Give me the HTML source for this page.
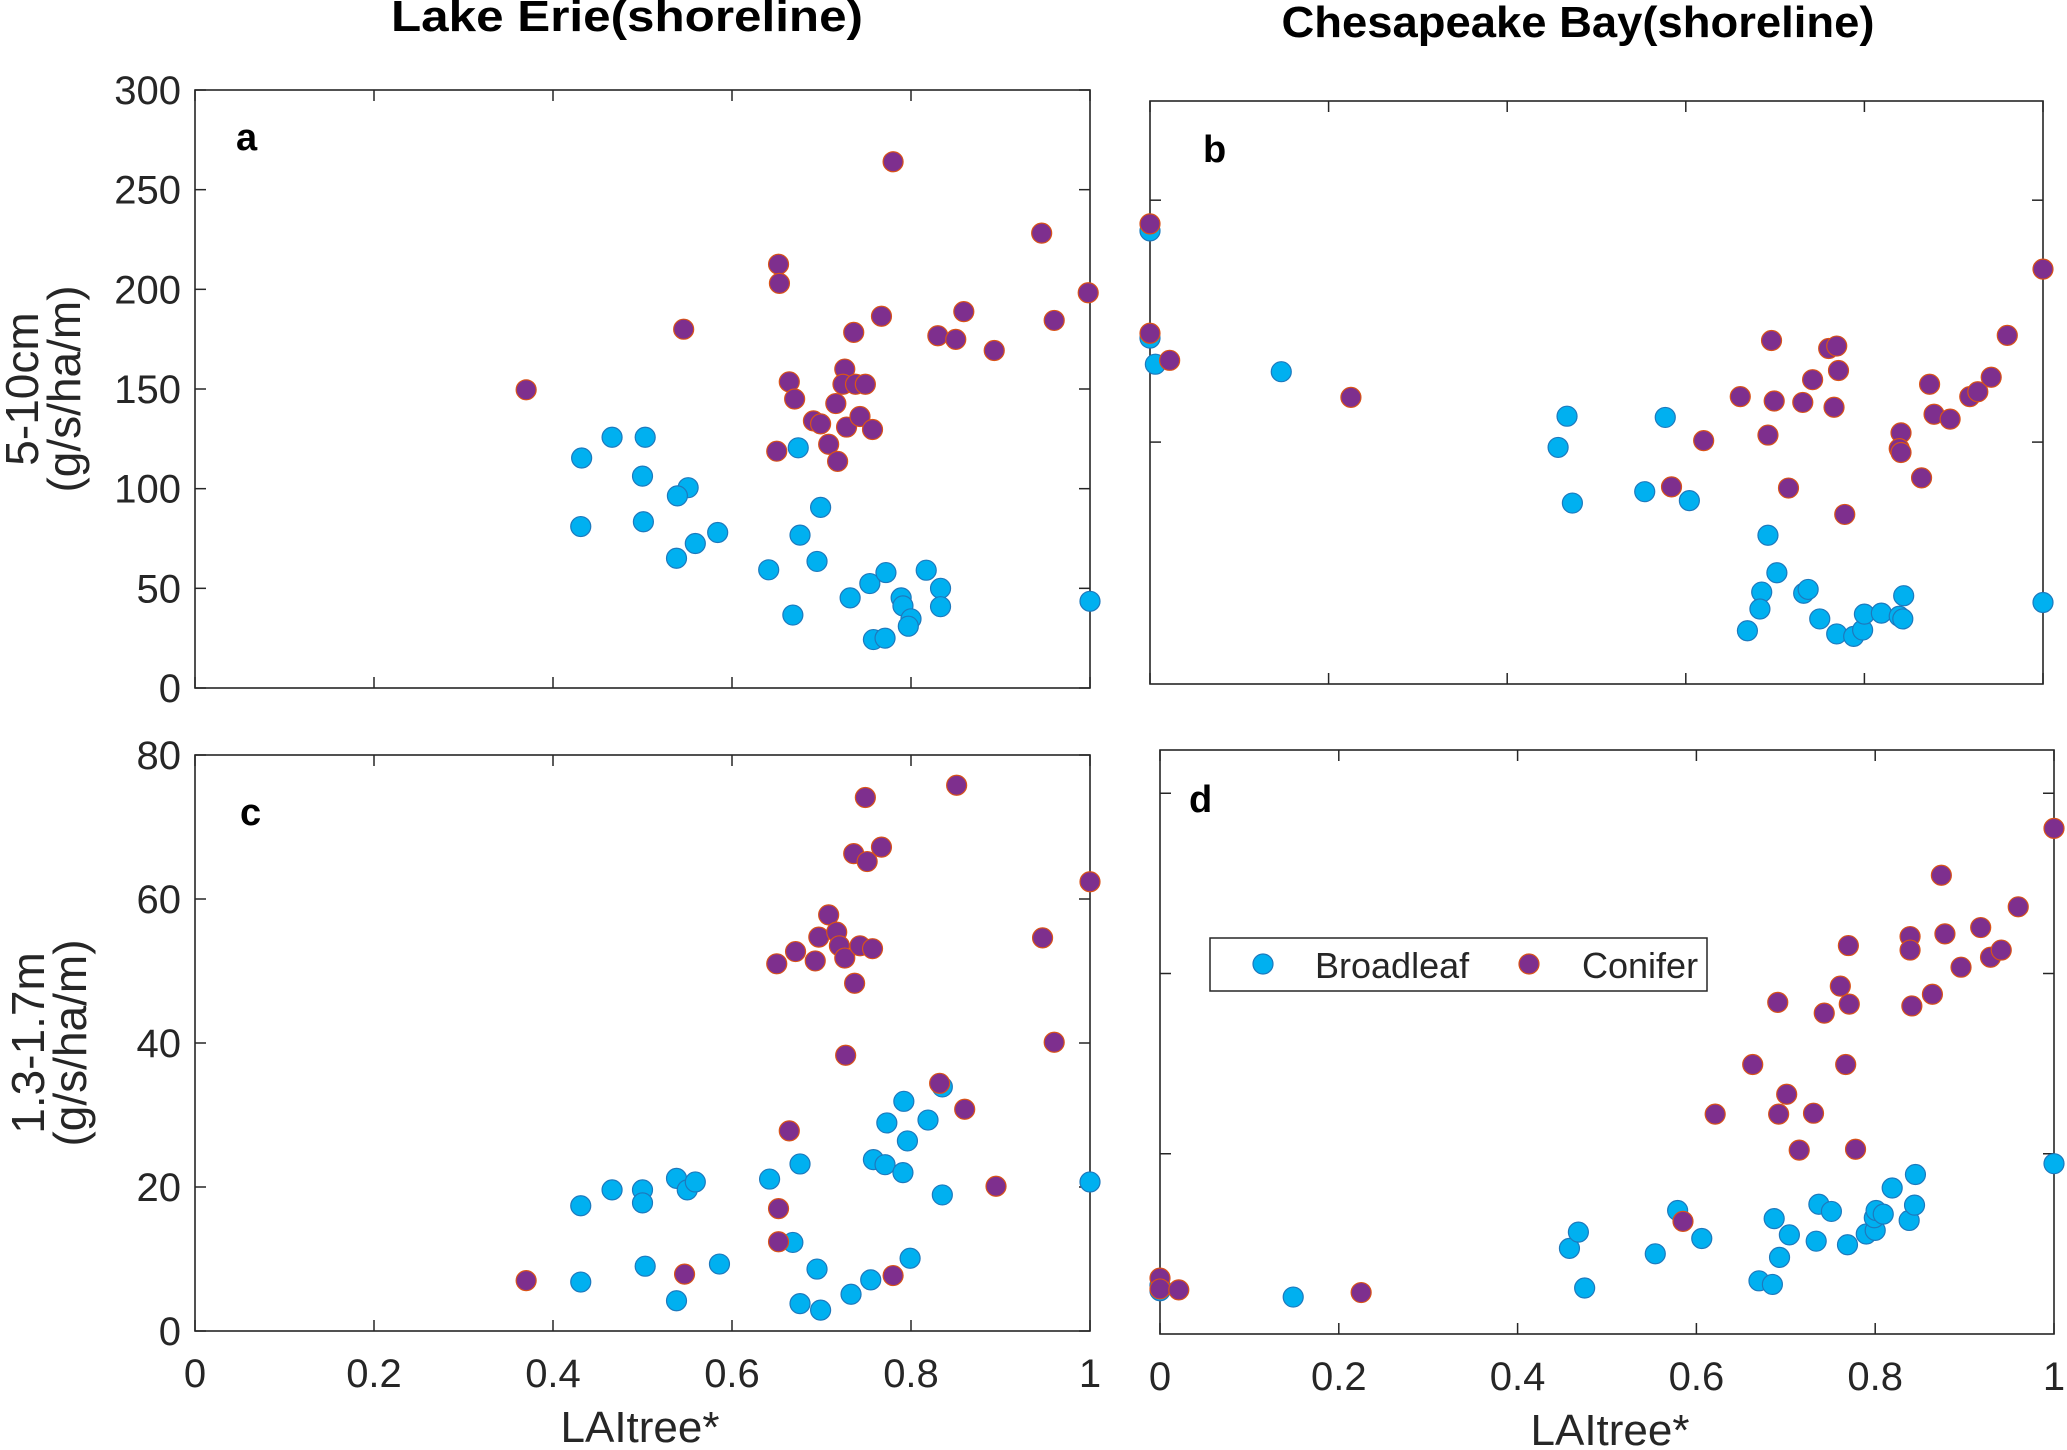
<!DOCTYPE html>
<html><head><meta charset="utf-8"><style>
html,body{margin:0;padding:0;background:#fff;}
svg{display:block;font-family:"Liberation Sans",sans-serif;}
</style></head><body>
<svg id="chart" width="2067" height="1450" viewBox="0 0 2067 1450" xmlns="http://www.w3.org/2000/svg">
<text x="627" y="31" font-size="44" font-weight="bold" text-anchor="middle" textLength="472" lengthAdjust="spacingAndGlyphs">Lake Erie(shoreline)</text>
<text x="1578" y="37" font-size="44" font-weight="bold" text-anchor="middle" textLength="593" lengthAdjust="spacingAndGlyphs">Chesapeake Bay(shoreline)</text>
<g id="root"></g>
</svg>
<script>
// Panel a: Lake Erie 5-10cm
const aConX=[.370,.546,.652,.653,.650,.664,.670,.691,.699,.708,.716,.718,.726,.724,.728,.736,.738,.749,.743,.757,.767,.780,.830,.850,.859,.893,.946,.960,.998];
const aConY=[149.6,180,212.6,203,118.8,153.6,145,134,132.5,122.3,142.7,113.7,160,152.4,130.9,178.4,152.4,152.4,136.2,129.7,186.5,264,176.7,174.9,188.8,169.3,228.2,184.4,198.3];
const aBroX=[.432,.431,.466,.503,.500,.501,.551,.539,.538,.559,.584,.641,.668,.674,.676,.699,.695,.732,.754,.772,.758,.771,.789,.791,.800,.797,.817,.833,.833,1.0];
const aBroY=[115.4,81,125.8,125.8,106.3,83.4,100.5,96.4,65.1,72.5,78,59.3,36.6,120.5,76.7,90.6,63.5,45.2,52.4,57.9,24.3,25,45.2,41.2,34.7,31,59.1,50,40.8,43.5];
// Panel b: Chesapeake 5-10cm
const bConX=[0,0,.022,.225,.696,.760,.769,.771,.742,.661,.699,.731,.766,.692,.620,.584,.715,.778,.841,.839,.841,.864,.873,.878,.896,.918,.927,.942,.960,1.0];
const bConY=[190.2,145,133.8,118.5,142,138.7,139.7,129.6,125.8,118.8,117,116.4,114.4,102.9,100.6,81.5,81,70.1,103.8,97.3,95.7,85.2,123.9,111.5,109.5,118.8,120.8,126.8,144.1,171.5];
const bBroX=[0,0,.006,.147,.467,.457,.473,.577,.554,.604,.692,.702,.685,.683,.669,.732,.737,.750,.769,.788,.798,.800,.819,.839,.843,.844,1.0];
const bBroY=[187.3,143,132.2,129.1,110.7,97.8,74.8,110.2,79.5,75.8,61.5,46,38,31,22,37.5,39.1,26.9,20.7,19.7,22.3,28.9,29.3,28,26.9,36.5,33.7];
// Panel c: Lake Erie 1.3-1.7m
const cConX=[.370,.547,.652,.652,.650,.664,.671,.693,.697,.708,.717,.720,.726,.727,.736,.737,.743,.749,.751,.757,.767,.780,.832,.851,.860,.895,.947,.960,1.0];
const cConY=[7,7.9,17,12.4,51,27.8,52.7,51.4,54.7,57.8,55.4,53.5,51.8,38.3,66.3,48.3,53.5,74.1,65.2,53.1,67.2,7.7,34.4,75.8,30.8,20.1,54.6,40.1,62.4];
const cBroX=[.431,.431,.466,.500,.500,.503,.538,.538,.550,.559,.586,.642,.668,.676,.676,.695,.699,.733,.755,.758,.773,.771,.791,.792,.796,.799,.819,.835,.835,1.0];
const cBroY=[6.8,17.4,19.6,19.6,17.8,9,21.2,4.2,19.6,20.7,9.3,21.1,12.3,3.8,23.2,8.6,2.9,5.1,7.1,23.8,28.9,23.1,22,31.9,26.4,10.1,29.3,33.9,18.9,20.7];
// Panel d: Chesapeake 1.3-1.7m
const dConX=[0,0,.021,.225,.585,.621,.663,.691,.692,.701,.715,.731,.743,.761,.767,.770,.771,.778,.839,.839,.841,.864,.874,.878,.896,.918,.929,.941,.960,1.0];
const dConY=[6.2,5,4.9,4.6,12.5,24.4,29.9,36.8,24.4,26.6,20.4,24.5,35.6,38.6,29.9,43.1,36.6,20.5,44.1,42.6,36.4,37.7,50.9,44.4,40.7,45.1,41.8,42.6,47.4,56.1];
const dBroX=[0,0,.149,.475,.458,.468,.554,.579,.606,.670,.685,.693,.687,.704,.734,.737,.751,.769,.790,.800,.799,.801,.809,.819,.838,.844,.845,1.0];
const dBroY=[5.4,4.8,4.1,5.1,9.5,11.3,8.9,13.7,10.6,5.9,5.5,8.5,12.8,11,10.3,14.4,13.6,9.9,11.1,11.5,12.9,13.7,13.3,16.2,12.6,14.3,17.7,18.9];
const xTicks=[0,0.2,0.4,0.6,0.8,1];
const xTickLabels=["0","0.2","0.4","0.6","0.8","1"];
const aYTicks=[0,50,100,150,200,250,300];
const bYTicks=[100,200];
const cYTicks=[0,20,40,60,80];
const dYTicks=[20,40,60];

const NS="http://www.w3.org/2000/svg";
const root=document.getElementById('root');
function mk(tag,attrs,parent){const e=document.createElementNS(NS,tag);for(const k in attrs)e.setAttribute(k,attrs[k]);(parent||root).appendChild(e);return e;}
const BRO_FILL="#00b0f0",BRO_EDGE="#1d79bd",CON_FILL="#7e2f8e",CON_EDGE="#d95319";

function panel(name,L,R,T,B,ymax,yTicks,showYLabels,showXLabels,letter,lx,ly,conX,conY,broX,broY){
  const g=mk('g',{});
  
  
  const sx=v=>L+v*(R-L), sy=v=>B-v/ymax*(B-T);
  const frame=mk('rect',{x:L,y:T,width:R-L,height:B-T,fill:'none',stroke:'#262626','stroke-width':1.6},g);
  
  
  xTicks.forEach((t,i)=>{
    const x=sx(t);
    mk('line',{x1:x,y1:B,x2:x,y2:B-11,stroke:'#262626','stroke-width':1.5},g);
    mk('line',{x1:x,y1:T,x2:x,y2:T+11,stroke:'#262626','stroke-width':1.5},g);
    if(showXLabels){
      const tx=mk('text',{x:x,y:B+56,'font-size':40,'text-anchor':'middle',fill:'#262626'},g);
      
      
      tx.textContent=xTickLabels[i];
    }
  });
  yTicks.forEach(t=>{
    const y=sy(t);
    mk('line',{x1:L,y1:y,x2:L+11,y2:y,stroke:'#262626','stroke-width':1.5},g);
    mk('line',{x1:R,y1:y,x2:R-11,y2:y,stroke:'#262626','stroke-width':1.5},g);
    if(showYLabels){
      const ty=mk('text',{x:L-14,y:y+14,'font-size':40,'text-anchor':'end',fill:'#262626'},g);
      
      
      ty.textContent=String(t);
    }
  });
  const lt=mk('text',{x:lx,y:ly,'font-size':38,'font-weight':'bold'},g);
  
  
  lt.textContent=letter;
  broX.forEach((v,i)=>{
    const c=mk('circle',{cx:sx(v),cy:sy(broY[i]),r:10,fill:BRO_FILL,stroke:BRO_EDGE,'stroke-width':1.2},g);
    
    
  });
  conX.forEach((v,i)=>{
    const c=mk('circle',{cx:sx(v),cy:sy(conY[i]),r:10,fill:CON_FILL,stroke:CON_EDGE,'stroke-width':1.2},g);
    
    
  });
}
panel('a',195,1090,90,688,300,aYTicks,true,false,'a',236,150,aConX,aConY,aBroX,aBroY);
panel('b',1150,2043,101,684,241,bYTicks,false,false,'b',1203,162,bConX,bConY,bBroX,bBroY);
panel('c',195,1090,755,1331,80,cYTicks,true,true,'c',240,825,cConX,cConY,cBroX,cBroY);
panel('d',1160,2054,750,1334,64.8,dYTicks,false,true,'d',1189,812,dConX,dConY,dBroX,dBroY);

function label(txt,x,y,rot,name,fs){
  const t=mk('text',{x:x,y:y,'font-size':fs,'text-anchor':'middle',fill:'#262626'});
  if(rot) t.setAttribute('transform','rotate(-90 '+x+' '+y+')');
  
  
  t.textContent=txt;
}
label('5-10cm',38,389,true,'y-axis-title-a-line1',46);
label('(g/s/ha/m)',80,389,true,'y-axis-title-a-line2',46);
label('1.3-1.7m',44,1043,true,'y-axis-title-c-line1',46);
label('(g/s/ha/m)',86,1043,true,'y-axis-title-c-line2',46);
label('LAItree*',640,1442,false,'x-axis-title-c',44);
label('LAItree*',1610,1445,false,'x-axis-title-d',44);

const lg=mk('g',{});


mk('rect',{x:1210,y:938,width:497,height:53,fill:'#fff',stroke:'#262626','stroke-width':1.5},lg);
const m1=mk('circle',{cx:1263,cy:964,r:10,fill:BRO_FILL,stroke:BRO_EDGE,'stroke-width':1.2},lg);


const t1=mk('text',{x:1315,y:978,'font-size':36,fill:'#262626'},lg);


t1.textContent='Broadleaf';
const m2=mk('circle',{cx:1529,cy:964,r:10,fill:CON_FILL,stroke:CON_EDGE,'stroke-width':1.2},lg);


const t2=mk('text',{x:1582,y:978,'font-size':36,fill:'#262626'},lg);


t2.textContent='Conifer';
</script>
</body></html>
